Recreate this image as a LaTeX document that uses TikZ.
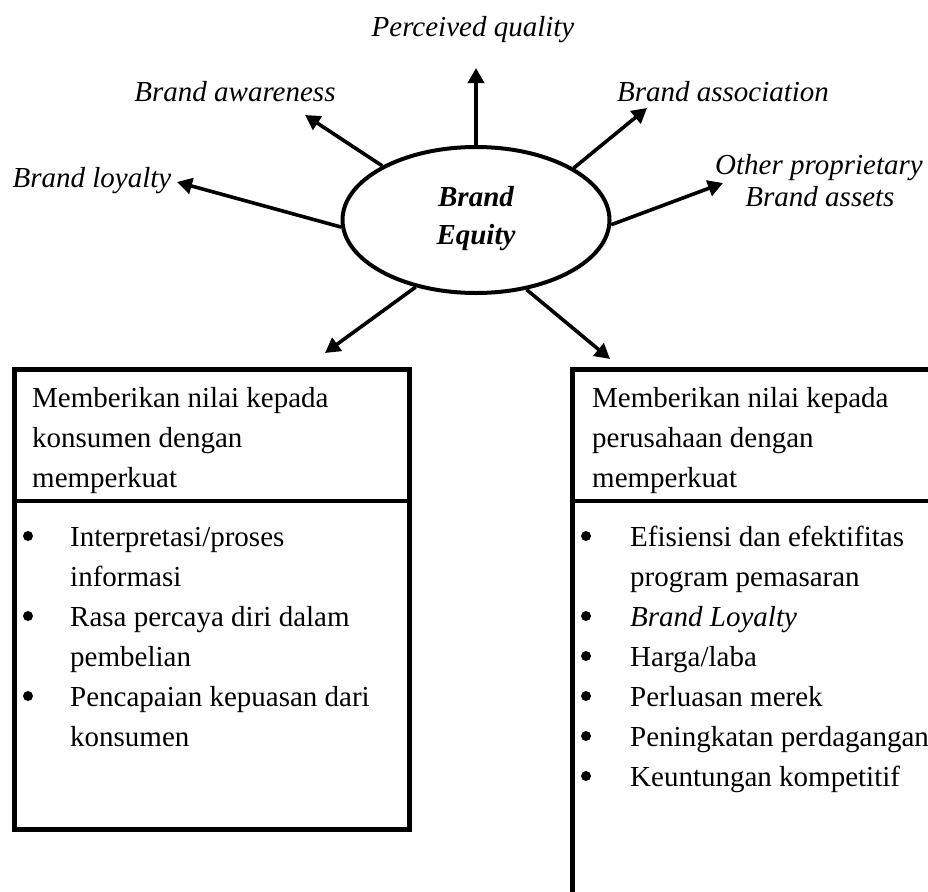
\documentclass[tikz,border=0pt]{standalone}
\usepackage{fontspec}
\setmainfont{Liberation Serif}
\usetikzlibrary{shapes.geometric,arrows.meta}
\begin{document}
\begin{tikzpicture}[x=1pt,y=-1pt,
  txt/.style={font=\fontsize{29}{40}\selectfont, inner sep=0pt, anchor=base west, yshift=-4pt},
  lbl/.style={font=\fontsize{29}{32}\selectfont\itshape, inner sep=0pt, anchor=base, yshift=-4pt},
  ray/.style={line width=3.6pt, -{Triangle[length=15pt,width=16pt]}},
  frame/.style={line width=4.5pt},
  panel/.style={draw, frame, anchor=north west, inner sep=0pt},
  dot/.style={circle, fill=black, inner sep=0pt, minimum size=10pt}]
\clip (0,0) rectangle (928,891);
\fill[white] (0,0) rectangle (928,891);

% central ellipse
\node[ellipse, draw, line width=4pt, minimum width=267pt, minimum height=146pt, inner sep=0pt] (eq) at (476,220) {};
\node[font=\fontsize{29}{38}\selectfont\bfseries\itshape, align=center, inner sep=0pt] (eqt) at (476,219) {Brand\\Equity};

% surrounding labels
\node[lbl] (pq) at (473,33) {Perceived quality};
\node[lbl] (ba) at (235,97) {Brand awareness};
\node[lbl] (bas) at (723,97) {Brand association};
\node[lbl] (bl) at (92,183) {Brand loyalty};
\node[lbl] (op1) at (819,170) {Other proprietary};
\node[lbl] (op2) at (820,202) {Brand assets};

% arrow tips
\coordinate (tq) at (476,68);
\coordinate (ta) at (305,115);
\coordinate (tas) at (647,108);
\coordinate (tl) at (177,182);
\coordinate (to) at (723,183);
\coordinate (tdl) at (325,353);
\coordinate (tdr) at (610,359);

\draw[ray] (eq.north) -- (tq);
\draw[ray] (eq.150.6) -- (ta);
\draw[ray] (eq.28.9) -- (tas);
\draw[ray] (eq.183) -- (tl);
\draw[ray] (eq.358.7) -- (to);
\draw[ray] (eq.228.5) -- (tdl);
\draw[ray] (eq.306) -- (tdr);

% left panel
\node[panel, minimum width=395pt, minimum height=460pt] (lbox) at (12,367) {};
\draw[frame] (lbox.west |- 0,501) -- (lbox.east |- 0,501);
\foreach \t [count=\i] in {Memberikan nilai kepada, konsumen dengan, memperkuat}
  \node[txt] (lh\i) at (32,363+40*\i) {\t};
\foreach \t [count=\i] in {Interpretasi/proses, informasi, Rasa percaya diri dalam, pembelian, Pencapaian kepuasan dari, konsumen}
  \node[txt] (li\i) at (70,502+40*\i) {\t};
\foreach \i in {1,3,5}
  \node[dot] (lb\i) at (28,496+40*\i) {};

% right panel
\node[panel, minimum width=420pt, minimum height=600pt] (rbox) at (570,367) {};
\draw[frame] (rbox.west |- 0,501) -- (rbox.east |- 0,501);
\foreach \t [count=\i] in {Memberikan nilai kepada, perusahaan dengan, memperkuat}
  \node[txt] (rh\i) at (592,363+40*\i) {\t};
\foreach \t [count=\i] in {Efisiensi dan efektifitas, program pemasaran, {\textit{Brand Loyalty}}, Harga/laba, Perluasan merek, Peningkatan perdagangan, Keuntungan kompetitif}
  \node[txt] (ri\i) at (630,502+40*\i) {\t};
\foreach \i in {1,3,4,5,6,7}
  \node[dot] (rb\i) at (586,496+40*\i) {};
\end{tikzpicture}
\end{document}
